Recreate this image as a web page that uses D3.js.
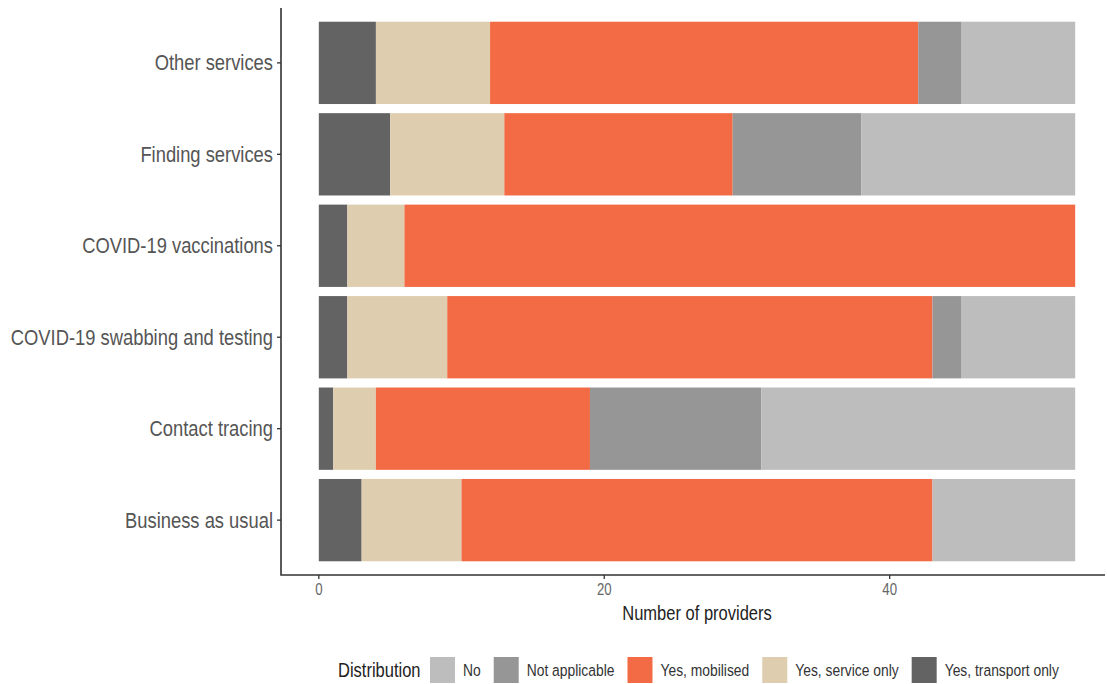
<!DOCTYPE html>
<html>
<head>
<meta charset="utf-8">
<script src="https://cdn.jsdelivr.net/npm/d3@7"></script>
<style>
  html, body { margin: 0; padding: 0; background: #fff; }
  svg { display: block; font-family: "Liberation Sans", Arial, sans-serif; }
</style>
</head>
<body>
<svg id="chart" width="1107" height="684"></svg>
<script>
// ---- data ----
const categories = ["Other services", "Finding services", "COVID-19 vaccinations",
  "COVID-19 swabbing and testing", "Contact tracing", "Business as usual"];
const transportOnly = [4, 5, 2, 2, 1, 3];
const serviceOnly   = [8, 8, 4, 7, 3, 7];
const mobilised     = [30, 16, 47, 34, 15, 33];
const notApplicable = [3, 9, 0, 2, 12, 0];
const no            = [8, 15, 0, 8, 22, 10];
const seriesNames = ["Yes, transport only", "Yes, service only", "Yes, mobilised", "Not applicable", "No"];
const legendOrder = ["No", "Not applicable", "Yes, mobilised", "Yes, service only", "Yes, transport only"];
const xTicks = [0, 20, 40];
const legendTitle = "Distribution";
const xTitle = "Number of providers";

const colors = {
  "Yes, transport only": "#636363",
  "Yes, service only": "#dfcdb0",
  "Yes, mobilised": "#f26b45",
  "Not applicable": "#969696",
  "No": "#bdbdbd"
};

const seriesValues = [transportOnly, serviceOnly, mobilised, notApplicable, no];
const rows = categories.map((c, i) => {
  const r = { category: c };
  seriesNames.forEach((s, k) => r[s] = seriesValues[k][i]);
  return r;
});
const stacked = d3.stack().keys(seriesNames)(rows);

const svg = d3.select("#chart");
const SX = 0.825;

const panel = { left: 281, right: 1105, top: 8, bottom: 575 };
const x = d3.scaleLinear().domain([-2.65, 55.65]).range([281, 1113]);
const y = d3.scaleBand().domain(categories).range([panel.top, panel.bottom])
  .paddingInner(0.1).paddingOuter(0.15);

// bars
svg.append("g").selectAll("g").data(stacked).join("g")
  .attr("fill", d => colors[d.key])
  .selectAll("rect").data(d => d).join("rect")
  .attr("x", d => x(d[0]))
  .attr("width", d => Math.max(0, x(d[1]) - x(d[0])))
  .attr("y", d => y(d.data.category))
  .attr("height", y.bandwidth());

// axis lines
svg.append("path")
  .attr("d", `M${panel.left},${panel.top}V${panel.bottom}H${panel.right}`)
  .attr("fill", "none").attr("stroke", "#333").attr("stroke-width", 1.6);

// y ticks & labels
const yg = svg.append("g");
categories.forEach(c => {
  const cy = y(c) + y.bandwidth() / 2;
  yg.append("line").attr("x1", panel.left - 4).attr("x2", panel.left)
    .attr("y1", cy).attr("y2", cy).attr("stroke", "#333").attr("stroke-width", 1.3);
  yg.append("text")
    .attr("transform", `translate(${panel.left - 8},${cy}) scale(0.835,1)`)
    .attr("text-anchor", "end").attr("dominant-baseline", "central")
    .attr("font-size", 22).attr("fill", "#555").text(c);
});

// x ticks & labels
const xg = svg.append("g");
xTicks.forEach(t => {
  xg.append("line").attr("x1", x(t)).attr("x2", x(t))
    .attr("y1", panel.bottom).attr("y2", panel.bottom + 4)
    .attr("stroke", "#333").attr("stroke-width", 1.3);
  xg.append("text")
    .attr("transform", `translate(${x(t)},${panel.bottom + 15}) scale(${SX},1)`)
    .attr("text-anchor", "middle").attr("dominant-baseline", "central")
    .attr("font-size", 16).attr("fill", "#666").text(t);
});

// x title
const xr = x.range();
svg.append("text")
  .attr("transform", `translate(${(xr[0] + xr[1]) / 2},${613}) scale(${SX},1)`)
  .attr("text-anchor", "middle").attr("dominant-baseline", "central")
  .attr("font-size", 20).attr("fill", "#222").text(xTitle);

// legend
const lg = svg.append("g");
const ly = 670;
lg.append("text")
  .attr("transform", `translate(338,${ly}) scale(${SX},1)`)
  .attr("dominant-baseline", "central").attr("font-size", 20).attr("fill", "#222")
  .text(legendTitle);
let cx = 430;
legendOrder.forEach(name => {
  lg.append("rect").attr("x", cx).attr("y", ly - 13).attr("width", 25).attr("height", 26)
    .attr("fill", colors[name]);
  const t = lg.append("text")
    .attr("transform", `translate(${cx + 33},${ly}) scale(0.815,1)`)
    .attr("dominant-baseline", "central").attr("font-size", 17).attr("fill", "#333")
    .text(name);
  const w = t.node().getComputedTextLength() * 0.815;
  cx = cx + 33 + w + 13;
});
</script>
</body>
</html>
